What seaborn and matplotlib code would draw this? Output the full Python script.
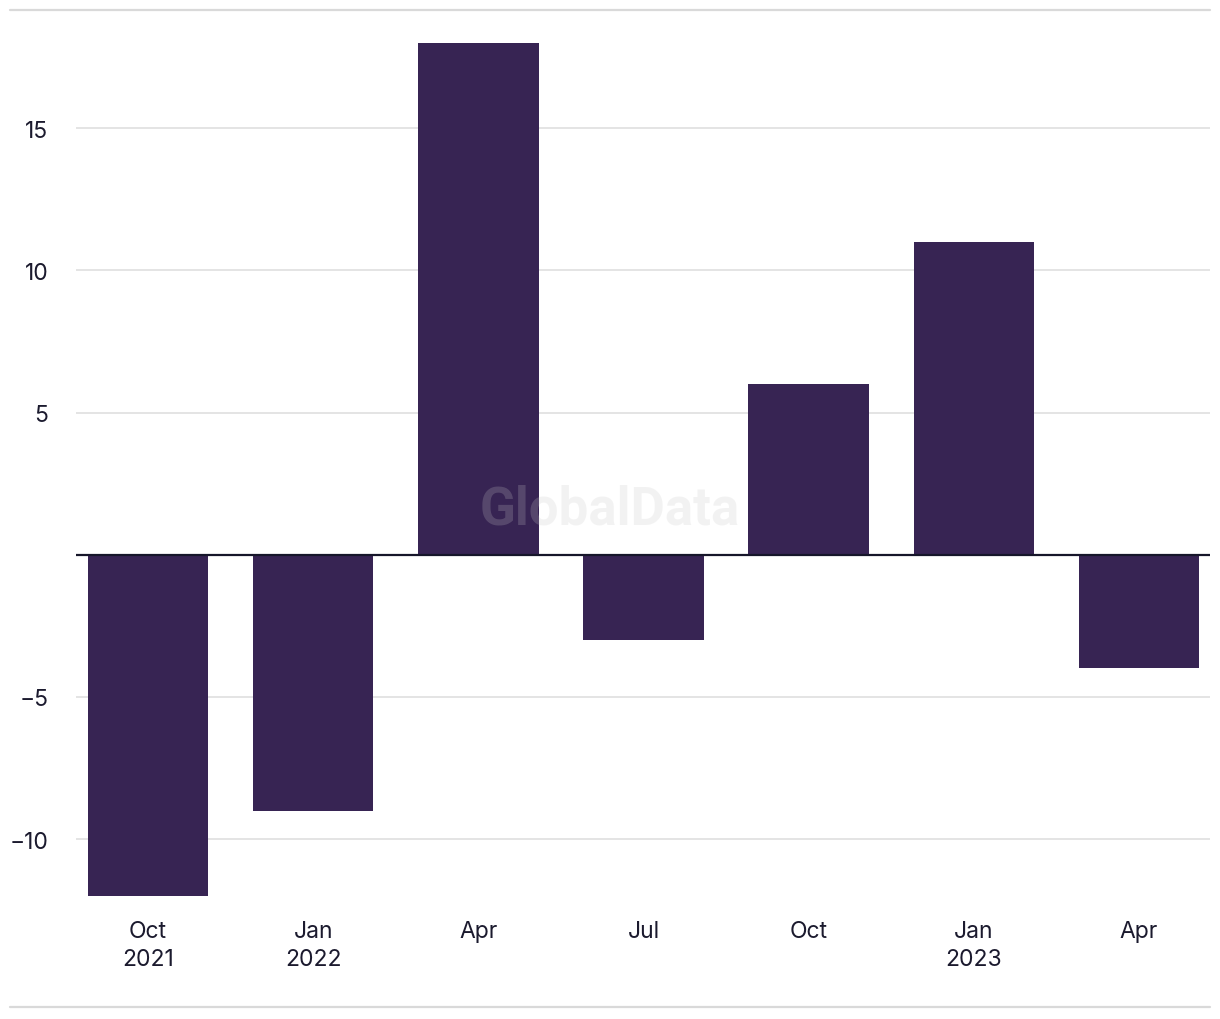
# Quarterly change bar chart (GlobalData style)

import matplotlib
matplotlib.use("Agg")
import matplotlib.pyplot as plt
from matplotlib.lines import Line2D
import pandas as pd
import seaborn as sns

# data
quarters = ["2021Q4", "2022Q1", "2022Q2", "2022Q3", "2022Q4", "2023Q1", "2023Q2"]
x_tick_labels = ["Oct\n2021", "Jan\n2022", "Apr", "Jul", "Oct", "Jan\n2023", "Apr"]
values = [-12, -9, 18, -3, 6, 11, -4]
y_ticks = [-10, -5, 5, 10, 15]
y_tick_labels = ["\u221210", "\u22125", "5", "10", "15"]

bar_color = "#372453"
text_color = "#1b1a2e"
grid_color = "#dcdcdc"

sns.set_theme(style="white")
plt.rcParams["font.family"] = ["Inter", "DejaVu Sans"]

df = pd.DataFrame({"quarter": quarters, "value": values})

fig = plt.figure(figsize=(12.2, 10.2), dpi=100)
ax = fig.add_axes([0.0623, 0.1206, 0.9295, 0.8504])

sns.barplot(data=df, x="quarter", y="value", order=quarters, color=bar_color,
            saturation=1, width=0.73, linewidth=0, ax=ax, zorder=3)

ax.set_xlim(-0.436, 6.43)
ax.set_ylim(-12, 18.5)

# grid and zero line
ax.set_yticks(y_ticks)
ax.set_yticklabels(y_tick_labels)
for y in y_ticks:
    ax.axhline(y, color=grid_color, lw=1.1, zorder=1)
ax.axhline(0, color="#16162a", lw=1.6, zorder=4)

ax.set_xticks(range(len(quarters)))
ax.set_xticklabels(x_tick_labels, linespacing=1.4)

for s in ax.spines.values():
    s.set_visible(False)
ax.set_xlabel("")
ax.set_ylabel("")
ax.tick_params(axis="y", length=0, pad=20, labelsize=16.5, labelcolor=text_color)
ax.tick_params(axis="x", length=0, pad=17, labelsize=16.5, labelcolor=text_color)

# watermark
fig.text(0.5, 0.5, "GlobalData", ha="center", va="center", fontsize=38,
         fontweight="bold", color="#c8c8c8", alpha=0.22,
         family=["Roboto", "DejaVu Sans"], zorder=10)

# top and bottom border lines
fig.add_artist(Line2D([0.008, 0.992], [0.989, 0.989], color="#d9d9d9", lw=1.6))
fig.add_artist(Line2D([0.008, 0.992], [0.0118, 0.0118], color="#d9d9d9", lw=1.6))

fig.savefig("out.png", dpi=100, facecolor="white")
